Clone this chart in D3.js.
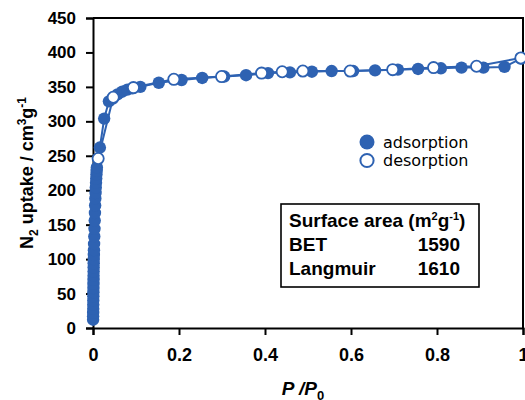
<!DOCTYPE html>
<html>
<head>
<meta charset="utf-8">
<script src="https://cdn.jsdelivr.net/npm/d3@7"></script>
<style>
  body { margin: 0; background: #fff; }
  svg { display: block; }
  .tick text { font-family: "Liberation Sans", Arial, sans-serif; font-weight: bold; fill: #000; }
</style>
</head>
<body>
<svg id="chart" width="525" height="400"></svg>
<script>
// --- data ---
const adsP = [0.0002, 0.0003, 0.0004, 0.0005, 0.0006, 0.0007, 0.0008, 0.0009, 0.001, 0.0011,
  0.0012, 0.0013, 0.0014, 0.0015, 0.0016, 0.0018, 0.002, 0.0022, 0.0025, 0.003,
  0.0035, 0.004, 0.0045, 0.005, 0.0055, 0.006, 0.0065, 0.007, 0.0075, 0.008,
  0.0085, 0.009, 0.016, 0.026, 0.037, 0.046, 0.057, 0.068, 0.08, 0.092,
  0.11, 0.153, 0.206, 0.254, 0.305, 0.356, 0.407, 0.458, 0.509, 0.555,
  0.605, 0.656, 0.709, 0.756, 0.809, 0.857, 0.908, 0.957, 0.995];
const adsV = [12, 17, 22, 28, 34, 40, 46, 52, 58, 64,
  70, 76, 82, 88, 94, 100, 106, 113, 122, 133,
  144, 156, 167, 178, 188, 196, 204, 211, 217, 223,
  228, 233, 262, 304, 329, 333, 339, 343, 346, 348,
  350, 356, 360, 363, 365, 367, 370, 371, 372, 373,
  373, 374, 375, 376, 377, 378, 378, 379, 391];

const desP = [0.995, 0.892, 0.792, 0.697, 0.598, 0.488, 0.44, 0.392, 0.299, 0.188, 0.094, 0.047, 0.012];
const desV = [392, 380, 378, 375, 373, 373, 372, 370, 365, 361, 349, 335, 246];

const xTicks = [0, 0.2, 0.4, 0.6, 0.8, 1];
const yTicks = [0, 50, 100, 150, 200, 250, 300, 350, 400, 450];

const legendNames = ["adsorption", "desorption"];
const tableRows = [["BET", "1590"], ["Langmuir", "1610"]];

const blue = "#2e62b2";

// --- layout ---
const svg = d3.select("#chart");
const margin = {top: 18, right: 2, bottom: 72, left: 93};
const width = 525 - margin.left - margin.right;
const height = 400 - margin.top - margin.bottom;

const x = d3.scaleLinear().domain([0, 1]).range([0, width]);
const y = d3.scaleLinear().domain([0, 450]).range([height, 0]);

const g = svg.append("g").attr("transform", `translate(${margin.left},${margin.top})`);

// frame (top + right)
g.append("path")
  .attr("d", `M0,0H${width}V${height}`)
  .attr("fill", "none").attr("stroke", "#000").attr("stroke-width", 2);

// axes
const xAxis = g.append("g")
  .attr("transform", `translate(0,${height})`)
  .call(d3.axisBottom(x).tickValues(xTicks).tickSize(7).tickPadding(13)
    .tickFormat(d => d === 0 || d === 1 ? d3.format("d")(d) : d3.format(".1f")(d)));
const yAxis = g.append("g")
  .call(d3.axisLeft(y).tickValues(yTicks).tickSize(7).tickPadding(10));

[xAxis, yAxis].forEach(a => {
  a.select(".domain").attr("stroke", "#000").attr("stroke-width", 2);
  a.selectAll(".tick line").attr("stroke", "#000").attr("stroke-width", 2);
});
xAxis.selectAll(".tick text").style("font-size", "18px");
yAxis.selectAll(".tick text").style("font-size", "17px");

// series
const ads = adsP.map((p, i) => ({p, v: adsV[i]}));
const des = desP.map((p, i) => ({p, v: desV[i]}));
const line = d3.line().x(d => x(d.p)).y(d => y(d.v));

g.append("path").datum(ads).attr("d", line)
  .attr("fill", "none").attr("stroke", blue).attr("stroke-width", 2);
g.append("path").datum(des).attr("d", line)
  .attr("fill", "none").attr("stroke", blue).attr("stroke-width", 2);

g.selectAll(".ads").data(ads).enter().append("circle")
  .attr("class", "ads")
  .attr("cx", d => x(d.p)).attr("cy", d => y(d.v)).attr("r", 6.2)
  .attr("fill", blue);

g.selectAll(".des").data(des).enter().append("circle")
  .attr("class", "des")
  .attr("cx", d => x(d.p)).attr("cy", d => y(d.v)).attr("r", 5.6)
  .attr("fill", "#fff").attr("stroke", blue).attr("stroke-width", 1.8);

// axis titles
const yTitle = svg.append("text")
  .attr("transform", "translate(33,173) rotate(-90)")
  .attr("text-anchor", "middle")
  .style("font-family", "Liberation Sans, Arial, sans-serif")
  .style("font-weight", "bold").style("font-size", "18px");
yTitle.append("tspan").text("N");
yTitle.append("tspan").attr("dy", 5).style("font-size", "12px").text("2");
yTitle.append("tspan").attr("dy", -5).text(" uptake / cm");
yTitle.append("tspan").attr("dy", -7).style("font-size", "12px").text("3");
yTitle.append("tspan").attr("dy", 7).text("g");
yTitle.append("tspan").attr("dy", -7).style("font-size", "12px").text("-1");

const xTitle = svg.append("text")
  .attr("x", 303).attr("y", 395)
  .attr("text-anchor", "middle")
  .style("font-family", "Liberation Sans, Arial, sans-serif")
  .style("font-weight", "bold").style("font-style", "italic").style("font-size", "19px");
xTitle.append("tspan").text("P");
xTitle.append("tspan").text(" /");
xTitle.append("tspan").text("P");
xTitle.append("tspan").attr("dy", 5).style("font-size", "13px").style("font-style", "normal").text("0");

// legend
const legend = svg.append("g");
legendNames.forEach((name, i) => {
  const cy = 142 + i * 18.5;
  const c = legend.append("circle").attr("cx", 367).attr("cy", cy);
  if (i === 0) c.attr("r", 7.5).attr("fill", blue);
  else c.attr("r", 6.6).attr("fill", "#fff").attr("stroke", blue).attr("stroke-width", 2);
  legend.append("text")
    .attr("x", 383).attr("y", cy + 5.5)
    .style("font-family", "DejaVu Sans, sans-serif").style("font-size", "16px")
    .attr("fill", "#000")
    .text(name);
});

// surface area box
const box = svg.append("g");
box.append("rect")
  .attr("x", 281).attr("y", 204).attr("width", 198).attr("height", 83)
  .attr("fill", "#fff").attr("stroke", "#000").attr("stroke-width", 1.6);
const boxFont = t => t.style("font-family", "Liberation Sans, Arial, sans-serif")
  .style("font-weight", "bold").style("font-size", "19px").attr("fill", "#000");
const head = boxFont(box.append("text").attr("x", 289).attr("y", 227));
head.append("tspan").text("Surface area (m");
head.append("tspan").attr("dy", -7).style("font-size", "11px").text("2");
head.append("tspan").attr("dy", 7).text("g");
head.append("tspan").attr("dy", -7).style("font-size", "11px").text("-1");
head.append("tspan").attr("dy", 7).text(")");
tableRows.forEach((r, i) => {
  const yy = 251 + i * 24;
  boxFont(box.append("text").attr("x", 289).attr("y", yy)).text(r[0]);
  boxFont(box.append("text").attr("x", 460).attr("y", yy).attr("text-anchor", "end")).text(r[1]);
});
</script>
</body>
</html>
